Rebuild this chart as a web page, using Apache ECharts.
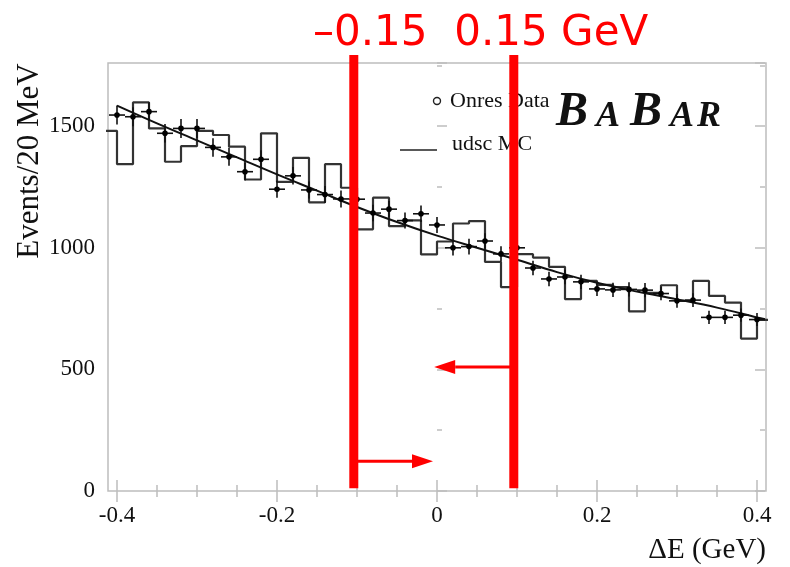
<!DOCTYPE html>
<html>
<head>
<meta charset="utf-8">
<script src="https://cdn.jsdelivr.net/npm/echarts@6/dist/echarts.min.js"></script>
<style>
  html, body { margin: 0; padding: 0; background: #ffffff; }
  #chart { width: 790px; height: 567px; }
</style>
</head>
<body>
<div id="chart"></div>
<script>
// udsc MC histogram: lower bin edges (GeV) and events per 20 MeV bin
const mcBinEdges = [-0.42, -0.40, -0.38, -0.36, -0.34, -0.32, -0.30, -0.28, -0.26, -0.24, -0.22,
                    -0.20, -0.18, -0.16, -0.14, -0.12, -0.10, -0.08, -0.06, -0.04, -0.02,
                     0.00,  0.02,  0.04,  0.06,  0.08,  0.10,  0.12,  0.14,  0.16,  0.18,
                     0.20,  0.22,  0.24,  0.26,  0.28,  0.30,  0.32,  0.34,  0.36,  0.38, 0.40];
const mcCounts = [1481, 1344, 1598, 1491, 1354, 1418, 1481, 1464, 1416, 1281, 1471,
                  1271, 1370, 1187, 1344, 1247, 1076, 1206, 1089, 1113, 973,
                  1026, 1100, 1110, 942, 838, 974, 960, 922, 789, 864,
                  848, 838, 739, 815, 846, 782, 864, 802, 775, 627, 704];
const mcLastEdge = 0.42;

// On-resonance data points with statistical errors
const dataDeltaE = [-0.40, -0.38, -0.36, -0.34, -0.32, -0.30, -0.28, -0.26, -0.24, -0.22,
                    -0.20, -0.18, -0.16, -0.14, -0.12, -0.10, -0.08, -0.06, -0.04, -0.02,
                     0.00,  0.02,  0.04,  0.06,  0.08,  0.10,  0.12,  0.14,  0.16,  0.18,
                     0.20,  0.22,  0.24,  0.26,  0.28,  0.30,  0.32,  0.34,  0.36,  0.38, 0.40];
const dataCounts = [1546, 1539, 1560, 1471, 1491, 1491, 1413, 1374, 1313, 1364,
                    1241, 1296, 1238, 1219, 1201, 1200, 1143, 1159, 1112, 1140,
                    1094, 1000, 1005, 1028, 975, 1000, 917, 872, 880, 860,
                    831, 827, 829, 826, 812, 782, 785, 714, 714, 723, 705];
const dataErrors = [39, 39, 39, 38, 39, 39, 38, 37, 36, 37,
                    35, 36, 35, 35, 35, 35, 34, 34, 33, 34,
                    33, 32, 32, 32, 31, 32, 30, 30, 30, 29,
                    29, 29, 29, 29, 28, 28, 28, 27, 27, 27, 27];
const dataHalfBin = 0.01;

// Smooth background fit
const fitDeltaE = [-0.40, -0.35, -0.30, -0.25, -0.20, -0.15, -0.10, -0.05, 0.00,
                    0.05,  0.10,  0.15,  0.20,  0.25,  0.30,  0.35,  0.40, 0.41];
const fitCounts = [1585, 1512, 1442, 1372, 1302, 1235, 1168, 1106, 1050,
                   1000, 951, 900, 856, 820, 788, 754, 714, 706];

// Signal window markers (GeV) and their vertical span (events)
const cutDeltaE = [-0.104, 0.096];
const cutSpan = [11, 1793];
const cutArrowFrom = [0.096, -0.104];
const cutArrowTo = [-0.0035, -0.005];
const cutArrowLevel = [510, 122];
const cutText = '\u20130.15  0.15 GeV';

// Axis ranges
const xRange = [-0.4, 0.4];
const xFrame = [-0.41125, 0.41125];
const yRange = [0, 1760];

const serif = '"Liberation Serif", "Times New Roman", serif';
const frameGray = '#bdbdbd';

const chart = echarts.init(document.getElementById('chart'), null, { renderer: 'canvas' });

const mcSeriesData = mcBinEdges.map((e, i) => [e, mcCounts[i]]);
mcSeriesData.push([mcLastEdge, mcCounts[mcCounts.length - 1]]);

const pointData = dataDeltaE.map((x, i) => [x, dataCounts[i], dataErrors[i]]);
const fitData = fitDeltaE.map((x, i) => [x, fitCounts[i]]);
const cutData = cutDeltaE.map(x => [x, cutSpan[0], cutSpan[1]]);
const arrowData = cutArrowFrom.map((f, i) => [f, cutArrowTo[i], cutArrowLevel[i]]);

function tickAxisX(position, showLabel) {
  return {
    gridIndex: 0, type: 'value', position: position,
    min: xRange[0], max: xRange[1], interval: 0.2,
    axisLine: { show: false },
    splitLine: { show: false },
    axisTick: { show: true, inside: true, length: 11, lineStyle: { color: frameGray, width: 1.5 } },
    minorTick: { show: true, splitNumber: 4, length: 6, lineStyle: { color: frameGray, width: 1.5 } },
    axisLabel: {
      show: showLabel, margin: 13, color: '#111', fontFamily: serif, fontSize: 23,
      formatter: v => (Math.abs(v) < 1e-9 ? '0' : (Math.round(v * 10) / 10).toString())
    }
  };
}

function tickAxisY(position, offset, interval, len, showLabel) {
  return {
    gridIndex: 0, type: 'value', position: position, offset: offset,
    min: yRange[0], max: yRange[1], interval: interval,
    axisLine: { show: false },
    splitLine: { show: false },
    axisTick: { show: true, inside: true, length: len, lineStyle: { color: frameGray, width: 1.5 } },
    axisLabel: {
      show: showLabel, margin: 13, color: '#111', fontFamily: serif, fontSize: 23,
      formatter: v => (v % 500 === 0 ? String(v) : '')
    }
  };
}

const option = {
  animation: false,
  backgroundColor: '#ffffff',
  grid: [
    { left: 117, right: 33, top: 63, bottom: 76 },
    { left: 108, right: 24, top: 63, bottom: 76, show: true,
      borderColor: frameGray, borderWidth: 1.5, backgroundColor: 'transparent' }
  ],
  xAxis: [
    tickAxisX('bottom', true),
    tickAxisX('top', false),
    { gridIndex: 1, type: 'value', min: xFrame[0], max: xFrame[1], show: false }
  ],
  yAxis: [
    tickAxisY('left', 9, 250, 5, false),
    tickAxisY('left', 9, 500, 10, true),
    tickAxisY('right', 8, 250, 5, false),
    tickAxisY('right', 8, 500, 10, false),
    { gridIndex: 1, type: 'value', min: yRange[0], max: yRange[1], show: false }
  ],
  series: [
    {
      name: 'udsc MC', type: 'line', xAxisIndex: 2, yAxisIndex: 4,
      data: mcSeriesData, step: 'end', symbol: 'none', z: 2,
      lineStyle: { color: '#333333', width: 2.2 }
    },
    {
      name: 'Fit', type: 'line', xAxisIndex: 2, yAxisIndex: 4,
      data: fitData, smooth: 0.4, symbol: 'none', z: 3,
      lineStyle: { color: '#111111', width: 2 }
    },
    {
      name: 'Onres Data', type: 'custom', xAxisIndex: 2, yAxisIndex: 4, z: 4,
      data: pointData,
      renderItem: function (params, api) {
        const x = api.value(0), y = api.value(1), e = api.value(2);
        const c = api.coord([x, y]);
        const l = api.coord([x - dataHalfBin, y]);
        const r = api.coord([x + dataHalfBin, y]);
        const t = api.coord([x, y + e]);
        const b = api.coord([x, y - e]);
        const stroke = { stroke: '#111111', lineWidth: 1.6 };
        return {
          type: 'group',
          children: [
            { type: 'line', shape: { x1: l[0], y1: c[1], x2: r[0], y2: c[1] }, style: stroke },
            { type: 'line', shape: { x1: c[0], y1: t[1], x2: c[0], y2: b[1] }, style: stroke },
            { type: 'circle', shape: { cx: c[0], cy: c[1], r: 2.8 }, style: { fill: '#000000' } }
          ]
        };
      }
    },
    {
      name: 'Window', type: 'custom', xAxisIndex: 2, yAxisIndex: 4, z: 10,
      clip: false, data: cutData,
      renderItem: function (params, api) {
        const p0 = api.coord([api.value(0), api.value(1)]);
        const p1 = api.coord([api.value(0), api.value(2)]);
        return {
          type: 'line',
          shape: { x1: p0[0], y1: p0[1], x2: p1[0], y2: p1[1] },
          style: { stroke: '#ff0000', lineWidth: 9 }
        };
      }
    },
    {
      name: 'Window arrows', type: 'custom', xAxisIndex: 2, yAxisIndex: 4, z: 10,
      clip: false, data: arrowData,
      renderItem: function (params, api) {
        const a = api.coord([api.value(0), api.value(2)]);
        const b = api.coord([api.value(1), api.value(2)]);
        const dir = b[0] > a[0] ? 1 : -1;
        const headLen = 21, headHalf = 7;
        const base = b[0] - dir * headLen;
        return {
          type: 'group',
          children: [
            { type: 'line', shape: { x1: a[0], y1: a[1], x2: base, y2: b[1] },
              style: { stroke: '#ff0000', lineWidth: 3 } },
            { type: 'polygon', shape: { points: [[b[0], b[1]], [base, b[1] - headHalf], [base, b[1] + headHalf]] },
              style: { fill: '#ff0000' } }
          ]
        };
      }
    }
  ],
  graphic: [
    // axis titles
    { type: 'text', x: 30, y: 161, rotation: Math.PI / 2,
      style: { text: 'Events/20 MeV', font: '31px ' + serif, fill: '#111', align: 'center', verticalAlign: 'middle' } },
    { type: 'text', x: 766, y: 550,
      style: { text: '\u0394E (GeV)', font: '29px ' + serif, fill: '#111', align: 'right', verticalAlign: 'middle' } },
    // legend
    { type: 'circle', shape: { cx: 437, cy: 101, r: 3.5 }, style: { fill: '#fff', stroke: '#222', lineWidth: 1.4 } },
    { type: 'text', x: 450, y: 101,
      style: { text: 'Onres Data', font: '22px ' + serif, fill: '#111', align: 'left', verticalAlign: 'middle' } },
    { type: 'line', shape: { x1: 400, y1: 150, x2: 437, y2: 150 }, style: { stroke: '#222', lineWidth: 1.6 } },
    { type: 'text', x: 452, y: 144,
      style: { text: 'udsc MC', font: '22px ' + serif, fill: '#111', align: 'left', verticalAlign: 'middle' } },
    // experiment logo
    { type: 'text', x: 556, y: 137, style: { text: 'B', font: 'italic bold 48px ' + serif, fill: '#111', verticalAlign: 'bottom' } },
    { type: 'text', x: 596, y: 135, style: { text: 'A', font: 'italic bold 36px ' + serif, fill: '#111', verticalAlign: 'bottom' } },
    { type: 'text', x: 630, y: 137, style: { text: 'B', font: 'italic bold 48px ' + serif, fill: '#111', verticalAlign: 'bottom' } },
    { type: 'text', x: 670, y: 135, style: { text: 'A', font: 'italic bold 36px ' + serif, fill: '#111', verticalAlign: 'bottom' } },
    { type: 'text', x: 697, y: 135, style: { text: 'R', font: 'italic bold 36px ' + serif, fill: '#111', verticalAlign: 'bottom' } },
    // window annotation
    { type: 'text', x: 313, y: 34, z: 20,
      style: { text: cutText, font: '42px "DejaVu Sans", sans-serif', fill: '#ff0000', align: 'left', verticalAlign: 'middle' } }
  ]
};

chart.setOption(option);
</script>
</body>
</html>
